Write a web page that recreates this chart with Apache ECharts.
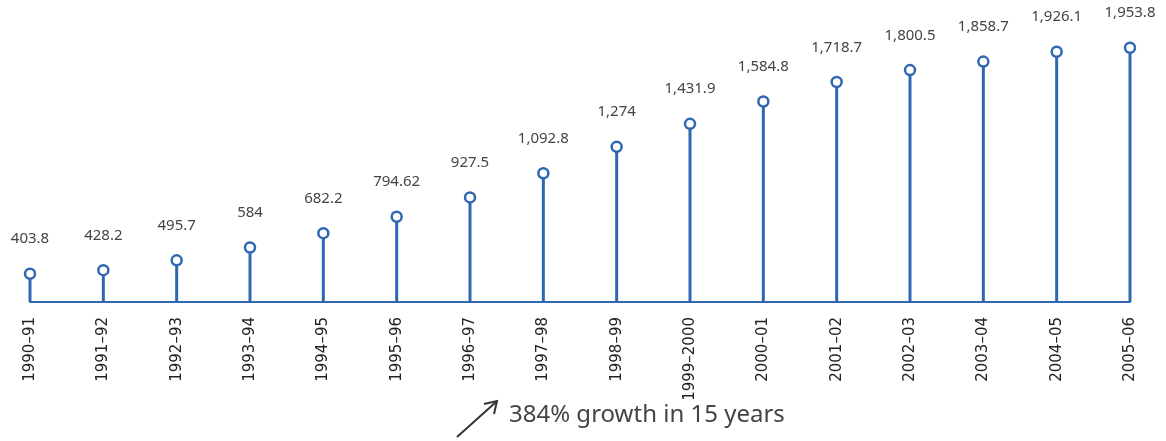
<!DOCTYPE html>
<html>
<head>
<meta charset="utf-8">
<script src="https://cdn.jsdelivr.net/npm/echarts@6/dist/echarts.min.js"></script>
<style>
  html, body { margin: 0; padding: 0; background: #fff; }
  #chart { width: 1166px; height: 441px; }
</style>
</head>
<body>
<div id="chart"></div>
<script>
// fiscal years and values
var years = ['1990–91', '1991–92', '1992–93', '1993–94', '1994–95', '1995–96', '1996–97', '1997–98',
  '1998–99', '1999–2000', '2000–01', '2001–02', '2002–03', '2003–04', '2004–05', '2005–06'];
var values = [403.8, 428.2, 495.7, 584, 682.2, 794.62, 927.5, 1092.8,
  1274, 1431.9, 1584.8, 1718.7, 1800.5, 1858.7, 1926.1, 1953.8];
var note = '384% growth in 15 years';

var blue = '#2f67b2';
var font = 'Noto Sans';

var chart = echarts.init(document.getElementById('chart'));
chart.setOption({
  animation: false,
  textStyle: { fontFamily: font },
  grid: { left: 30, right: 36, top: 41, bottom: 139 },
  xAxis: {
    type: 'category',
    data: years,
    boundaryGap: false,
    axisLine: { lineStyle: { color: blue, width: 2 } },
    axisTick: { show: false },
    axisLabel: { rotate: 90, margin: 15, fontSize: 15, color: '#222', fontFamily: 'DejaVu Sans' }
  },
  yAxis: {
    type: 'value',
    min: 210,
    max: 2000,
    show: false,
    splitLine: { show: false }
  },
  series: [
    {
      // stems
      type: 'bar',
      data: values,
      barWidth: 3,
      itemStyle: { color: blue },
      silent: true
    },
    {
      // heads and value labels
      type: 'scatter',
      data: values,
      symbol: 'circle',
      symbolSize: 10,
      itemStyle: { color: '#fff', borderColor: blue, borderWidth: 2.5, opacity: 1 },
      label: {
        show: true,
        position: 'top',
        distance: 21,
        fontSize: 15,
        color: '#444',
        fontFamily: font,
        formatter: function (p) { return echarts.format.addCommas(p.value); }
      },
      z: 5
    }
  ],
  graphic: [
    {
      type: 'text',
      left: 509,
      top: 403,
      style: { text: note, fontSize: 24, fill: '#444', fontFamily: font }
    },
    {
      type: 'line',
      shape: { x1: 457, y1: 437, x2: 496, y2: 402 },
      style: { stroke: '#333', lineWidth: 2 }
    },
    {
      type: 'polyline',
      shape: { points: [[484, 404], [497, 401], [494, 414]] },
      style: { stroke: '#333', lineWidth: 2, fill: null }
    }
  ]
});
</script>
</body>
</html>
